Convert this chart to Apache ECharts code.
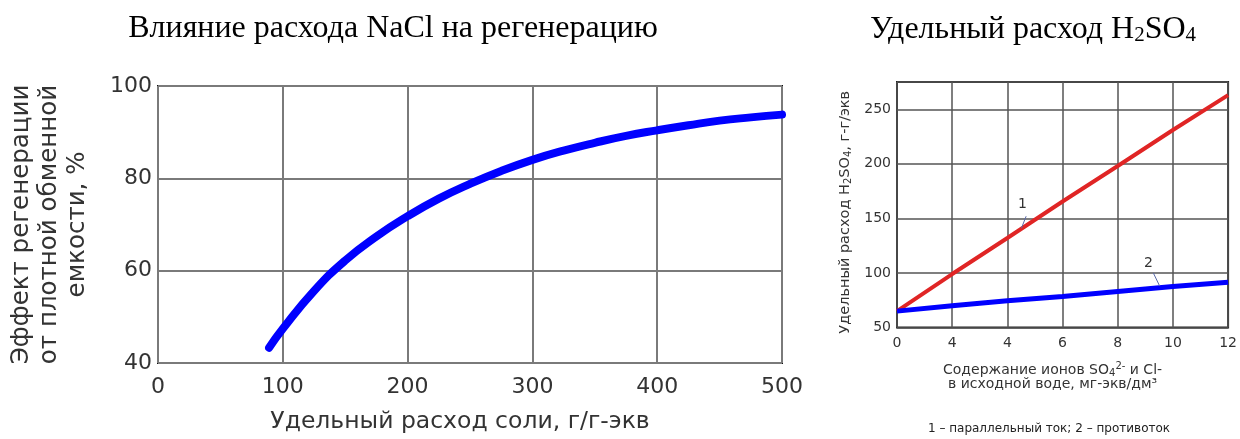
<!DOCTYPE html>
<html>
<head>
<meta charset="utf-8">
<title>Расход NaCl и H2SO4</title>
<script src="https://cdn.jsdelivr.net/npm/echarts@6/dist/echarts.min.js"></script>
<style>
  html, body { margin: 0; padding: 0; background: #fff; }
  #chart { width: 1240px; height: 439px; }
</style>
</head>
<body>
<div id="chart"></div>
<script>
// Влияние расхода NaCl на регенерацию: [г/г-экв, %]
const saltDose = [89, 100, 125, 150, 175, 200, 225, 250, 275, 300, 325, 350, 375, 400, 425, 450, 475, 500];
const regenEffect = [43.3, 47.4, 55.6, 62.2, 67.4, 71.8, 75.6, 78.8, 81.6, 84.0, 86.0, 87.7, 89.2, 90.4, 91.5, 92.5, 93.2, 93.8];

// Удельный расход H2SO4 от содержания ионов SO4 и Cl
const ionContent = [0, 2, 4, 6, 8, 10, 12];
const acidParallel = [65, 99, 132, 165.5, 198, 231, 263];   // 1 – параллельный ток
const acidCounter = [65, 70, 74.5, 78.5, 83, 87.5, 91.5];    // 2 – противоток

// Подписи делений оси X правого графика (как на исходной номограмме)
const ionTickLabels = ['0', '4', '4', '6', '8', '10', '12'];

const SANS = 'DejaVu Sans';
const SERIF = 'Liberation Serif';

const pairs = (xs, ys) => xs.map((x, i) => [x, ys[i]]);

const chart = echarts.init(document.getElementById('chart'), null, { renderer: 'canvas' });

const gridLine = (color, width) => ({ show: true, lineStyle: { color: color, width: width } });

chart.setOption({
  animation: false,
  backgroundColor: '#ffffff',
  title: [
    {
      text: 'Влияние расхода NaCl на регенерацию',
      left: 393, top: 13, textAlign: 'center', padding: 0,
      textStyle: { fontFamily: SERIF, fontSize: 32, fontWeight: 'normal', color: '#000' }
    },
    {
      text: '{t|Удельный расход H}{s|2}{t|SO}{s|4}',
      left: 1033, top: 13, textAlign: 'center', padding: 0,
      textStyle: {
        fontWeight: 'normal',
        rich: {
          t: { fontFamily: SERIF, fontSize: 32, fontWeight: 'normal', color: '#000' },
          s: { fontFamily: SERIF, fontSize: 21, fontWeight: 'normal', color: '#000', padding: [12, 0, 0, 0] }
        }
      }
    }
  ],
  grid: [
    { left: 157, top: 86, width: 625, height: 279.5, show: true, borderColor: '#111', borderWidth: 2, backgroundColor: 'transparent' },
    { left: 897, top: 82, width: 332, height: 245.5, show: true, borderColor: '#222', borderWidth: 2, backgroundColor: 'transparent' }
  ],
  xAxis: [
    {
      gridIndex: 0, type: 'value', min: 0, max: 500, interval: 100,
      axisLine: { show: false }, axisTick: { show: false },
      splitLine: gridLine('#7a7a7a', 2),
      axisLabel: { fontFamily: SANS, fontSize: 22, color: '#333', margin: 13 },
      name: 'Удельный расход соли, г/г-экв',
      nameLocation: 'middle', nameGap: 47,
      nameTextStyle: { fontFamily: SANS, fontSize: 23.5, color: '#333', padding: [0, 20, 0, 0] }
    },
    {
      gridIndex: 1, type: 'value', min: 0, max: 12, interval: 2,
      axisLine: { show: false }, axisTick: { show: false },
      splitLine: gridLine('#555', 1.5),
      axisLabel: {
        fontFamily: SANS, fontSize: 14, color: '#333', margin: 9,
        formatter: v => ionTickLabels[Math.round(v / 2)]
      },
      name: '{t|Содержание ионов SO}{sub|4}{sup|2-}{t| и Cl-}\n{t|в исходной воде, мг-экв/дм³}',
      nameLocation: 'middle', nameGap: 36,
      nameTextStyle: {
        padding: [0, 20, 0, 0],
        rich: {
          t: { fontFamily: SANS, fontSize: 14, color: '#333', lineHeight: 14 },
          sub: { fontFamily: SANS, fontSize: 10, color: '#333', lineHeight: 14, padding: [6, 0, 0, 0] },
          sup: { fontFamily: SANS, fontSize: 10, color: '#333', lineHeight: 14, padding: [0, 0, 8, 0] }
        }
      }
    }
  ],
  yAxis: [
    {
      gridIndex: 0, type: 'value', min: 40, max: 100, interval: 20,
      axisLine: { show: false }, axisTick: { show: false },
      splitLine: gridLine('#7a7a7a', 2),
      axisLabel: { fontFamily: SANS, fontSize: 22, color: '#333', margin: 6 },
      name: 'Эффект регенерации\nот плотной обменной\nемкости, %',
      nameLocation: 'middle', nameRotate: 90, nameGap: 66,
      nameTextStyle: { fontFamily: SANS, fontSize: 24.5, color: '#333', lineHeight: 28, align: 'center' }
    },
    {
      gridIndex: 1, type: 'value', min: 50, max: 275, interval: 50,
      axisLine: { show: false }, axisTick: { show: false },
      splitLine: gridLine('#555', 1.5),
      axisLabel: {
        fontFamily: SANS, fontSize: 14, color: '#333', margin: 6,
        formatter: v => (v % 50 === 0 ? String(v) : '')
      },
      name: '{t|Удельный расход H}{s|2}{t|SO}{s|4}{t|, г-г/экв}',
      nameLocation: 'middle', nameRotate: 90, nameGap: 44,
      nameTextStyle: {
        padding: [0, 15, 0, 0],
        rich: {
          t: { fontFamily: SANS, fontSize: 14.5, color: '#333', lineHeight: 15 },
          s: { fontFamily: SANS, fontSize: 10, color: '#333', lineHeight: 15, padding: [6, 0, 0, 0] }
        }
      }
    }
  ],
  series: [
    {
      name: 'Эффект регенерации',
      type: 'line', xAxisIndex: 0, yAxisIndex: 0,
      data: pairs(saltDose, regenEffect),
      smooth: 0.5, showSymbol: false, silent: true,
      lineStyle: { color: '#0000ff', width: 8, cap: 'round' }
    },
    {
      name: 'параллельный ток',
      type: 'line', xAxisIndex: 1, yAxisIndex: 1,
      data: pairs(ionContent, acidParallel),
      showSymbol: false, silent: true,
      lineStyle: { color: '#e02525', width: 4 },
      markLine: {
        silent: true, symbol: 'none', label: { show: false },
        lineStyle: { color: '#5a6aa8', width: 1, type: 'solid' },
        data: [[{ coord: [4.51, 141] }, { coord: [4.68, 152] }]]
      },
      markPoint: {
        silent: true, symbol: 'circle', symbolSize: 1,
        itemStyle: { color: 'rgba(0,0,0,0)' },
        label: { show: true, position: 'inside', formatter: '1', fontFamily: SANS, fontSize: 14, color: '#333' },
        data: [{ coord: [4.55, 162.5] }]
      }
    },
    {
      name: 'противоток',
      type: 'line', xAxisIndex: 1, yAxisIndex: 1,
      data: pairs(ionContent, acidCounter),
      showSymbol: false, silent: true,
      lineStyle: { color: '#0000ff', width: 5 },
      markLine: {
        silent: true, symbol: 'none', label: { show: false },
        lineStyle: { color: '#5a6aa8', width: 1, type: 'solid' },
        data: [[{ coord: [9.29, 100] }, { coord: [9.52, 88] }]]
      },
      markPoint: {
        silent: true, symbol: 'circle', symbolSize: 1,
        itemStyle: { color: 'rgba(0,0,0,0)' },
        label: { show: true, position: 'inside', formatter: '2', fontFamily: SANS, fontSize: 14, color: '#333' },
        data: [{ coord: [9.11, 109] }]
      }
    }
  ],
  graphic: [
    {
      type: 'text', x: 1049, y: 429,
      style: {
        text: '1 – параллельный ток; 2 – противоток',
        fontFamily: SANS, fontSize: 12, fill: '#222', align: 'center', verticalAlign: 'middle'
      }
    }
  ]
});
</script>
</body>
</html>
